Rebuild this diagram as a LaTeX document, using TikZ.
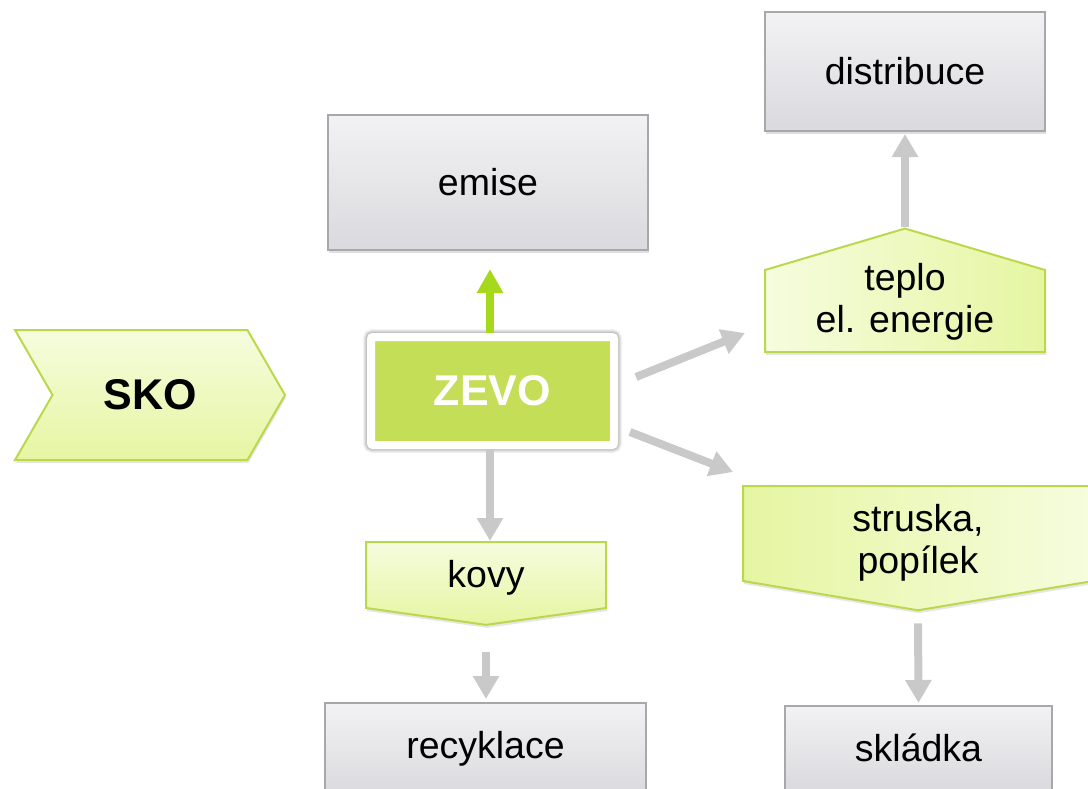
\documentclass[tikz,border=0pt]{standalone}
\usepackage{fontspec}
\setmainfont{Liberation Sans}
\usepackage{tikz}
\usetikzlibrary{shapes.symbols,arrows.meta,calc,shadows}
\definecolor{boxtop}{HTML}{F2F2F4}
\definecolor{boxbot}{HTML}{DADADE}
\definecolor{boxline}{HTML}{A8A8AB}
\definecolor{leafpale}{HTML}{F6FCDE}
\definecolor{leafdeep}{HTML}{E5F6A2}
\definecolor{leafline}{HTML}{BBD84C}
\definecolor{zevofill}{HTML}{C4DE57}
\definecolor{upgreen}{HTML}{A6D81C}
\definecolor{flowgray}{HTML}{C9C9C9}

\begin{document}
\begin{tikzpicture}[x=0.5pt, y=-0.5pt,
  txt/.style={font=\fontsize{18.75}{21}\selectfont, align=center},
  boldtxt/.style={font=\fontsize{21.5}{24}\selectfont\bfseries},
  graybox/.style={txt, draw=boxline, line width=1pt, top color=boxtop, bottom color=boxbot,
    drop shadow={opacity=0.25, shadow xshift=0.5pt, shadow yshift=-1.5pt}},
  leaf/.style={txt, signal, draw=leafline, line width=1pt, inner sep=0pt,
    drop shadow={opacity=0.2, shadow xshift=0.5pt, shadow yshift=-1.5pt}},
  halo/.style={preaction={draw=black, draw opacity=0.05, line width=8pt},
    preaction={draw=black, draw opacity=0.06, line width=7pt},
    preaction={draw=black, draw opacity=0.07, line width=6pt},
    preaction={draw=black, draw opacity=0.08, line width=5pt}},
  flow/.style={draw=flowgray, line width=4pt, -{Triangle[width=12.5pt,length=11.5pt]}},
  upflow/.style={draw=upgreen, line width=4pt, -{Triangle[width=12.5pt,length=12pt]}},
]
  \useasboundingbox (0,0) rectangle (1088,788);

  % input waste
  \node[leaf, boldtxt, signal from=west, signal to=east, signal pointer angle=120,
    minimum width=135pt, minimum height=65pt, top color=leafpale, bottom color=leafdeep]
    (sko) at (150,395) {SKO};

  % the plant itself
  \node[halo, draw=white, line width=4pt, fill=zevofill, rounded corners=1pt,
    minimum width=121.5pt, minimum height=54pt, text=white, boldtxt]
    (zevo) at (492.5,391) {ZEVO};

  % outputs of the plant
  \node[graybox, minimum width=160pt, minimum height=67.5pt] (emise) at (488,182.5) {emise};
  \node[graybox, minimum width=140pt, minimum height=59.5pt] (distrib) at (905,71.5) {distribuce};

  \node[leaf, signal to=north, signal pointer angle=147, anchor=south,
    minimum width=140pt, minimum height=41pt, left color=leafpale, right color=leafdeep,
    label={[txt, yshift=4.5pt]center:teplo\\el. energie}]
    (teplo) at (905,353) {};

  \node[leaf, signal to=south, signal pointer angle=161, anchor=north,
    minimum width=175pt, minimum height=47.5pt, left color=leafdeep, right color=leafpale,
    label={[txt, yshift=-4.5pt]center:struska,\\pop\'{\i}lek}]
    (struska) at (918,485) {};

  \node[leaf, signal to=south, signal pointer angle=164, anchor=north,
    minimum width=120pt, minimum height=33pt, top color=leafpale, bottom color=leafdeep,
    label={[txt, yshift=-1.5pt]center:kovy}]
    (kovy) at (486,541) {};

  \node[graybox, minimum width=160.5pt, minimum height=46pt] (recykl) at (485.5,749) {recyklace};
  \node[graybox, minimum width=133.5pt, minimum height=42pt] (skladka) at (918.5,748) {skl\'{a}dka};

  % flows
  \draw[upflow, shorten >=9pt] ([xshift=-1.25pt]zevo.north) -- ([xshift=-1.25pt]zevo.north |- emise.south);
  \draw[flow] ([xshift=-1.25pt]zevo.south) -- ([xshift=-1.25pt]zevo.south |- kovy.north);
  \draw[flow, shorten <=13pt, shorten >=1.5pt] (kovy.south) -- (kovy.south |- recykl.north);
  \draw[flow] ($(zevo.east)+(18,-14)$) -- ($(teplo.south)+(-160,-20)$);
  \draw[flow] ($(zevo.east)+(12,41)$) -- ($(struska.north)+(-185,-13)$);
  \draw[flow, shorten <=6pt, shorten >=1pt] (struska.south) -- (skladka.north);
  \draw[flow, shorten >=1pt] (teplo.north) -- (distrib.south);
\end{tikzpicture}
\end{document}
